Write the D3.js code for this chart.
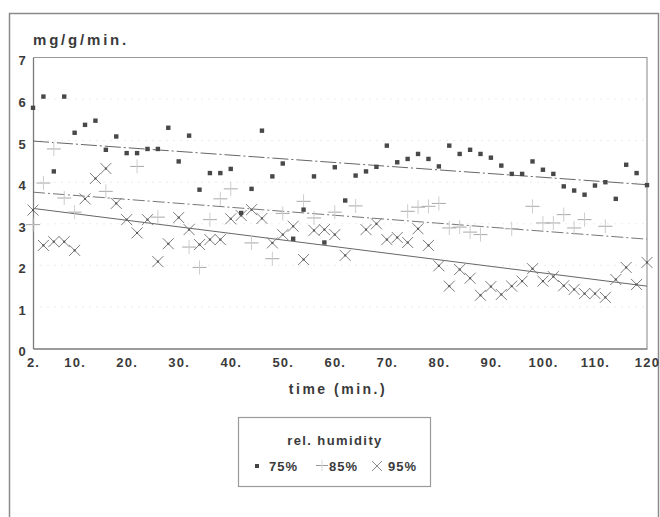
<!DOCTYPE html>
<html>
<head>
<meta charset="utf-8">
<script src="https://cdn.jsdelivr.net/npm/d3@7"></script>
<style>
  body { margin: 0; background: #fff; }
  text { font-family: "Liberation Sans", Arial, sans-serif; font-weight: bold; fill: #3a3a3a; }
</style>
</head>
<body>
<script>
var w = 660;
var h = 517;

// time in minutes, one reading every 2 minutes
var times = [2, 4, 6, 8, 10, 12, 14, 16, 18, 20,
             22, 24, 26, 28, 30, 32, 34, 36, 38, 40,
             42, 44, 46, 48, 50, 52, 54, 56, 58, 60,
             62, 64, 66, 68, 70, 72, 74, 76, 78, 80,
             82, 84, 86, 88, 90, 92, 94, 96, 98, 100,
             102, 104, 106, 108, 110, 112, 114, 116, 118, 120];

// mg/g/min. at 75% rel. humidity
var rh75 = [5.79, 6.06, 4.26, 6.06, 5.19, 5.38, 5.48, 4.78, 5.10, 4.70,
            4.70, 4.80, 4.80, 5.31, 4.50, 5.12, 3.82, 4.22, 4.22, 4.32,
            3.26, 3.84, 5.24, 4.14, 4.45, 2.64, 3.34, 4.14, 2.55, 4.36,
            3.56, 4.16, 4.26, 4.37, 4.88, 4.48, 4.56, 4.68, 4.56, 4.38,
            4.88, 4.68, 4.78, 4.68, 4.59, 4.40, 4.20, 4.20, 4.50, 4.30,
            4.20, 3.90, 3.80, 3.70, 3.92, 4.00, 3.60, 4.42, 4.22, 3.93];

// 85% (many of the marks are too faint to read)
var rh85 = [2.98, 3.98, 4.80, 3.62, 3.28, null, null, 3.78, null, null,
            4.38, null, 3.16, null, null, 2.44, 1.95, 3.10, 3.60, 3.84,
            null, 2.54, null, 2.16, 3.25, null, 3.54, 3.14, null, 3.28,
            null, 3.43, null, null, null, null, 3.30, 3.40, 3.42, 3.49,
            2.90, 2.92, 2.80, 2.74, null, null, 2.88, null, 3.42, 3.02,
            3.02, 3.22, 2.90, 3.10, null, 2.94, null, null, null, null];

// 95%
var rh95 = [3.33, 2.48, 2.57, 2.57, 2.36, 3.60, 4.09, 4.33, 3.49, 3.10,
            2.78, 3.10, 2.09, 2.52, 3.15, 2.86, 2.50, 2.62, 2.62, 3.12,
            3.20, 3.34, 3.13, 2.54, 2.74, 2.94, 2.14, 2.84, 2.86, 2.74,
            2.24, null, 2.86, 3.00, 2.62, 2.67, 2.55, 2.88, 2.48, 1.99,
            1.50, 1.90, 1.69, 1.28, 1.49, 1.30, 1.50, 1.62, 1.92, 1.62,
            1.73, 1.51, 1.42, 1.32, 1.32, 1.23, 1.66, 1.95, 1.54, 2.07];

// regression lines, value at t = 2 and t = 120
var trend75 = [4.99, 3.94];
var trend85 = [3.76, 2.63];
var trend95 = [3.37, 1.50];

var xTicks = [2, 10, 20, 30, 40, 50, 60, 70, 80, 90, 100, 110, 120];
var yTicks = [0, 1, 2, 3, 4, 5, 6, 7];
var legendLabels = ["75%", "85%", "95%"];

var svg = d3.select("body")
    .append("svg")
    .attr("width", w)
    .attr("height", h);

svg.append("rect")
    .attr("width", "100%")
    .attr("height", "100%")
    .attr("fill", "#fff");

// outer frame of the figure
svg.append("rect")
    .attr("x", 9.5)
    .attr("y", 13.5)
    .attr("width", 649)
    .attr("height", 520)
    .attr("fill", "none")
    .attr("stroke", "#8a8a8a")
    .attr("stroke-width", 1.5);

var xScale = d3.scaleLinear()
    .domain([2, 120])
    .range([33, 647]);

var yScale = d3.scaleLinear()
    .domain([0, 7])
    .range([348.5, 57.5]);

// very faint dotted grid left over in the print
svg.append("g")
    .selectAll("line")
    .data(yTicks.slice(1, 7))
    .enter()
    .append("line")
    .attr("x1", xScale(2))
    .attr("x2", xScale(120))
    .attr("y1", function(d) { return yScale(d); })
    .attr("y2", function(d) { return yScale(d); })
    .attr("stroke", "#ececec")
    .attr("stroke-dasharray", "2,5");

// top and right border of the plot
svg.append("path")
    .attr("d", "M" + xScale(2) + "," + yScale(7) + "H" + xScale(120) + "V" + yScale(0))
    .attr("fill", "none")
    .attr("stroke", "#9a9a9a")
    .attr("stroke-width", 1.2);

var xAxis = d3.axisBottom(xScale)
    .tickValues(xTicks)
    .tickSize(0)
    .tickPadding(9)
    .tickFormat(function(d) { return d == 120 ? "120" : d + "."; });

var yAxis = d3.axisLeft(yScale)
    .tickValues(yTicks)
    .tickSize(0)
    .tickPadding(6)
    .tickFormat(d3.format("d"));

var gx = svg.append("g")
    .attr("transform", "translate(0," + yScale(0) + ")")
    .call(xAxis);

var gy = svg.append("g")
    .attr("transform", "translate(" + xScale(2) + ",0)")
    .call(yAxis);

[gx, gy].forEach(function(g) {
  g.select(".domain").attr("stroke", "#7a7a7a").attr("stroke-width", 1.3);
  g.selectAll("text")
      .attr("font-family", null)
      .attr("font-size", 13)
      .attr("fill", "#404040")
      .style("letter-spacing", "1.2px");
});
gy.selectAll("text").attr("dy", "0.57em");

// trend lines
var trendLine = d3.line()
    .x(function(d) { return xScale(d[0]); })
    .y(function(d) { return yScale(d[1]); });

svg.append("path")
    .attr("d", trendLine([[2, trend75[0]], [120, trend75[1]]]))
    .attr("fill", "none")
    .attr("stroke", "#666")
    .attr("stroke-dasharray", "16,3,2,3");

svg.append("path")
    .attr("d", trendLine([[2, trend85[0]], [120, trend85[1]]]))
    .attr("fill", "none")
    .attr("stroke", "#777")
    .attr("stroke-dasharray", "12,3,2,3");

svg.append("path")
    .attr("d", trendLine([[2, trend95[0]], [120, trend95[1]]]))
    .attr("fill", "none")
    .attr("stroke", "#666");

function pairs(vals) {
  return times.map(function(t, i) { return [t, vals[i]]; })
      .filter(function(d) { return d[1] != null; });
}

// 85%: thin light plus signs, the vertical stroke nearly faded out
var plus = svg.append("g")
    .selectAll("g")
    .data(pairs(rh85))
    .enter()
    .append("g")
    .attr("transform", function(d) { return "translate(" + xScale(d[0]) + "," + yScale(d[1]) + ")"; });
plus.append("line").attr("x1", -7).attr("x2", 7).attr("stroke", "#a8a8a8");
plus.append("line").attr("y1", -7).attr("y2", 7).attr("stroke", "#cdcdcd");

// 95%: crosses with a dot in the middle
var cross = svg.append("g")
    .selectAll("g")
    .data(pairs(rh95))
    .enter()
    .append("g")
    .attr("transform", function(d) { return "translate(" + xScale(d[0]) + "," + yScale(d[1]) + ")"; });
cross.append("path")
    .attr("d", "M-5.5,-5.5L5.5,5.5M-5.5,5.5L5.5,-5.5")
    .attr("stroke", "#7c7c7c")
    .attr("stroke-width", 1);
cross.append("rect")
    .attr("x", -1)
    .attr("y", -1)
    .attr("width", 2)
    .attr("height", 2)
    .attr("fill", "#555");

// 75%: small filled squares
svg.append("g")
    .selectAll("rect")
    .data(pairs(rh75))
    .enter()
    .append("rect")
    .attr("x", function(d) { return xScale(d[0]) - 2.2; })
    .attr("y", function(d) { return yScale(d[1]) - 2.2; })
    .attr("width", 4.4)
    .attr("height", 4.4)
    .attr("fill", "#484848");

// titles
svg.append("text")
    .attr("x", 33)
    .attr("y", 45)
    .attr("font-size", 15)
    .style("letter-spacing", "2.8px")
    .text("mg/g/min.");

svg.append("text")
    .attr("x", 338)
    .attr("y", 394)
    .attr("text-anchor", "middle")
    .attr("font-size", 14)
    .style("letter-spacing", "2.5px")
    .text("time (min.)");

// legend
svg.append("rect")
    .attr("x", 238.5)
    .attr("y", 417.5)
    .attr("width", 192)
    .attr("height", 69)
    .attr("fill", "none")
    .attr("stroke", "#9a9a9a")
    .attr("stroke-width", 1.2);

svg.append("text")
    .attr("x", 335)
    .attr("y", 445)
    .attr("text-anchor", "middle")
    .attr("font-size", 13)
    .style("letter-spacing", "1.4px")
    .text("rel. humidity");

var legX = [269, 329, 388];
svg.selectAll(".leg")
    .data(legendLabels)
    .enter()
    .append("text")
    .attr("class", "leg")
    .attr("x", function(d, i) { return legX[i]; })
    .attr("y", 471)
    .attr("font-size", 13)
    .style("letter-spacing", "1px")
    .text(function(d) { return d; });

svg.append("rect")
    .attr("x", 255)
    .attr("y", 464)
    .attr("width", 4)
    .attr("height", 4)
    .attr("fill", "#444");

svg.append("line")
    .attr("x1", 316).attr("x2", 328)
    .attr("y1", 465.5).attr("y2", 465.5)
    .attr("stroke", "#999");
svg.append("line")
    .attr("x1", 322).attr("x2", 322)
    .attr("y1", 460).attr("y2", 471)
    .attr("stroke", "#dadada");

svg.append("path")
    .attr("d", "M372,461L382,471M372,471L382,461")
    .attr("stroke", "#8a8a8a");
</script>
</body>
</html>
